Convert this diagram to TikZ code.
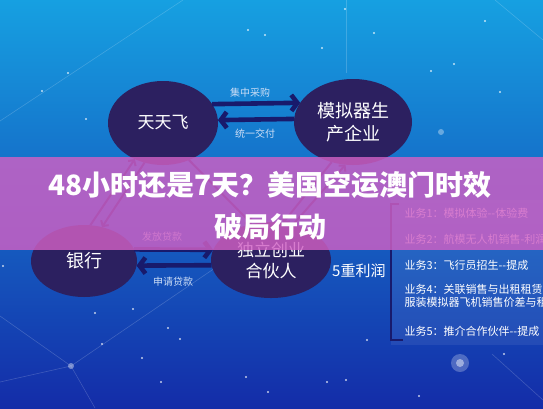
\documentclass[tikz,border=0pt]{standalone}
\usepackage{fontspec}
\setmainfont{Noto Sans CJK SC}
\usetikzlibrary{shapes.geometric,arrows.meta,positioning}
\definecolor{bgtop}{RGB}{22,160,225}
\definecolor{bgmid}{RGB}{26,120,210}
\definecolor{bgbot}{RGB}{20,44,168}
\definecolor{bubblenavy}{RGB}{44,32,96}
\definecolor{flownavy}{RGB}{24,26,108}
\definecolor{bandpink}{RGB}{208,96,196}
\definecolor{labelblue}{RGB}{205,222,246}

\begin{document}
\begin{tikzpicture}[x=1pt,y=-1pt,
  bubble/.style={draw=none, ellipse, fill=bubblenavy, inner sep=0pt, outer sep=0pt, text=white, align=center, font=\fontsize{18}{23}\selectfont},
  flow/.style={draw=flownavy, line width=4.6pt, -{Straight Barb[length=6pt,width=16pt]}},
  diag/.style={draw=flownavy, line width=2pt, -{Straight Barb[length=4pt,width=9pt]}},
  flowlabel/.style={text=labelblue, font=\fontsize{10}{12}\selectfont},
  biz/.style={anchor=west, text=white, align=left, font=\fontsize{11}{12.5}\selectfont},
  star/.style={fill=white, opacity=0.75}
]
\clip (0,0) rectangle (543,408);

% Background
\shade[top color=bgtop, middle color=bgmid, bottom color=bgbot] (0,0) rectangle (543,408);
\foreach \a/\b in {{(0,121)}/{(183,0)}, {(495,0)}/{(543,40)}, {(346,0)}/{(346,73)},
                   {(0,316)}/{(71,366)}, {(71,366)}/{(0,382)}, {(71,366)}/{(215,268)},
                   {(71,366)}/{(95,408)}, {(492,354)}/{(543,400)}}
  \draw[white, opacity=0.18, line width=0.6pt] \a -- \b;
\foreach \p in {(248,30),(265,35),(345,9),(322,48),(374,33),(500,92),(68,73),(86,119),
                (42,91),(454,64),(485,21),(431,71),(95,313),(102,344),(142,358),(133,309),
                (168,328),(180,339),(161,382),(246,377),(268,392),(327,382),(346,380),
                (367,340),(419,396),(504,354),(3,266)}
  \fill[star] \p circle (1.2pt);
\fill[white, opacity=0.35] (441,132) circle (3pt);
\fill[white, opacity=0.4] (71,366) circle (3pt);
\fill[white, opacity=0.25] (460,363) circle (9pt);
\fill[white, opacity=0.45] (460,363) circle (4pt);

% Main flow
\node[bubble, minimum width=110pt, minimum height=84pt, font=\fontsize{17}{22}\selectfont] (ttf) at (163,123) {天天飞};
\node[bubble, minimum width=118pt, minimum height=86pt] (mnq) at (353,122) {模拟器生\\产企业};
\node[bubble, minimum width=106pt, minimum height=72pt] (yh) at (84,261) {银行};
\node[bubble, minimum width=120pt, minimum height=76pt, font=\fontsize{17}{21}\selectfont] (hhr) at (271,260) {独立创业\\合伙人};

\draw[flow] (ttf.21) -- (mnq.160);
\draw[flow] (mnq.177) -- (ttf.3);
\node[flowlabel] (buy) at (250,93) {集中采购};
\node[flowlabel] (deliver) at (255,134) {统一交付};

\draw[flow] (yh.13) -- (hhr.170);
\draw[flow] (hhr.185) -- (yh.355);
\node[flowlabel] (lend) at (162,237) {发放贷款};
\node[flowlabel] (apply) at (173,282) {申请贷款};

% Diagonal links
\draw[diag] (ttf.245) -- (yh.62);
\draw[diag] (yh.80) -- (ttf.232);
\draw[diag] (ttf.-55) -- (hhr.118);
\draw[diag] (mnq.-118) -- (hhr.72);
\draw[diag] (hhr.58) -- (mnq.-100);

\node[right=1pt of hhr, yshift=-11pt, text=white, inner sep=0pt, font=\fontsize{15}{17}\selectfont] (profit) {5重利润};

% Business list
\fill[white, opacity=0.07] (391,200) rectangle (543,345);
\draw[flownavy, line width=2.2pt] (399,204) -- (391,204) -- (391,340) -- (403,340);
\node[biz] (b1) at (401,213) {业务1：模拟体验-{}-体验费};
\node[biz] (b2) at (401,239) {业务2：航模无人机销售-利润};
\node[biz] (b3) at (401,265) {业务3：飞行员招生-{}-提成};
\node[biz] (b4) at (401,296) {业务4：关联销售与出租租赁-{}-\\服装模拟器飞机销售价差与租};
\node[biz] (b5) at (401,331) {业务5：推介合作伙伴-{}-提成};

% Title band
\fill[bandpink, opacity=0.82] (0,157) rectangle (543,250);
\node[text=white, align=center, font=\bfseries\fontsize{28}{42}\selectfont] (title) at (270,206) {48小时还是7天？美国空运澳门时效\\破局行动};
\end{tikzpicture}
\end{document}
